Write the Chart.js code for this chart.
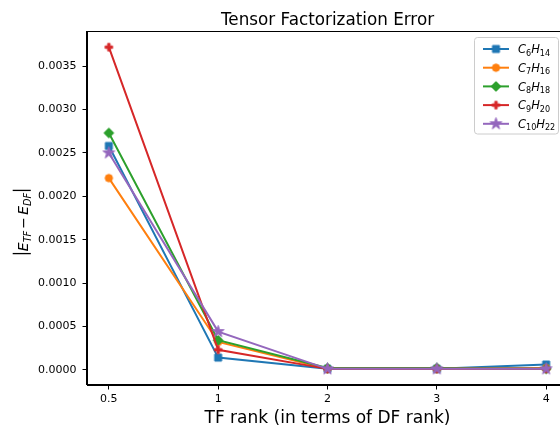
<!DOCTYPE html>
<html>
<head>
<meta charset="utf-8">
<script src="https://cdn.jsdelivr.net/npm/chart.js@4/dist/chart.umd.min.js"></script>
<style>
  html, body { margin: 0; padding: 0; background: #fff; }
  #wrap { width: 560px; height: 425px; overflow: hidden; position: relative; }
  canvas { display: block; }
</style>
</head>
<body>
<div id="wrap"><canvas id="errChart" width="575" height="425"></canvas></div>
<script>
// TF rank labels (x axis, evenly spaced)
const rankLabels = ['0.5', '1', '2', '3', '4'];
const yTicks = [0, 0.0005, 0.001, 0.0015, 0.002, 0.0025, 0.003, 0.0035];

// |E_TF - E_DF| per molecule
const c6h14 = [0.00258, 0.00014, 0.00001, 0.00001, 0.00006];
const c7h16 = [0.00221, 0.00032, 0.00001, 0.00001, 0.00002];
const c8h18 = [0.00273, 0.00034, 0.00002, 0.00002, 0.00001];
const c9h20 = [0.00372, 0.00023, 0.00001, 0.00001, 0.00001];
const c10h22 = [0.00250, 0.00044, 0.00001, 0.00001, 0.00001];

const FONT = '"DejaVu Sans", sans-serif';

// dibuja un marcador estilo matplotlib en un canvas pequeño
function makeMarker(shape, color) {
    const size = 19;
    const c = document.createElement('canvas');
    c.width = size;
    c.height = size;
    const g = c.getContext('2d');
    const m = size / 2;
    g.fillStyle = color;
    g.strokeStyle = color;
    g.lineWidth = 1;
    g.beginPath();
    if (shape === 'square') {
        g.rect(m - 3.5, m - 3.5, 7, 7);
    } else if (shape === 'circle') {
        g.arc(m, m, 3.7, 0, Math.PI * 2);
    } else if (shape === 'diamond') {
        const d = 4.9;
        g.moveTo(m, m - d); g.lineTo(m + d, m); g.lineTo(m, m + d); g.lineTo(m - d, m);
    } else if (shape === 'plus') {
        const a = 3.7, t = 1.2;
        const pts = [[-t,-a],[t,-a],[t,-t],[a,-t],[a,t],[t,t],[t,a],[-t,a],[-t,t],[-a,t],[-a,-t],[-t,-t]];
        pts.forEach((p, i) => i ? g.lineTo(m + p[0], m + p[1]) : g.moveTo(m + p[0], m + p[1]));
    } else if (shape === 'star') {
        const R = 6.2, r = R * 0.382;
        for (let i = 0; i < 10; i++) {
            const ang = -Math.PI / 2 + i * Math.PI / 5;
            const rad = i % 2 ? r : R;
            const px = m + rad * Math.cos(ang), py = m + rad * Math.sin(ang);
            i ? g.lineTo(px, py) : g.moveTo(px, py);
        }
    }
    g.closePath();
    g.fill();
    g.stroke();
    return c;
}

const series = [
    { name: [['C', 'i'], ['6', 's'], ['H', 'i'], ['14', 's']], data: c6h14, color: '#1f77b4', shape: 'square' },
    { name: [['C', 'i'], ['7', 's'], ['H', 'i'], ['16', 's']], data: c7h16, color: '#ff7f0e', shape: 'circle' },
    { name: [['C', 'i'], ['8', 's'], ['H', 'i'], ['18', 's']], data: c8h18, color: '#2ca02c', shape: 'diamond' },
    { name: [['C', 'i'], ['9', 's'], ['H', 'i'], ['20', 's']], data: c9h20, color: '#d62728', shape: 'plus' },
    { name: [['C', 'i'], ['10', 's'], ['H', 'i'], ['22', 's']], data: c10h22, color: '#9467bd', shape: 'star' }
];
series.forEach(s => { s.marker = makeMarker(s.shape, s.color); });

function fontFor(k, size, subSize) {
    if (k === 'i') return 'italic ' + size + 'px ' + FONT;
    if (k === 's') return subSize + 'px ' + FONT;
    if (k === 'si') return 'italic ' + subSize + 'px ' + FONT;
    return size + 'px ' + FONT;
}

// texto tipo mathtext: i = cursiva, s = subíndice, si = subíndice cursiva, o = operador, b = barra alta
function drawMath(ctx, parts, x, y, size, align, bar) {
    const subSize = size * 0.7;
    const widths = parts.map(([t, k]) => {
        if (k === 'b') return size * 0.34;
        ctx.font = fontFor(k, size, subSize);
        let w = ctx.measureText(t).width;
        if (k === 'o') w += size * 0.3;
        return w;
    });
    const total = widths.reduce((a, b) => a + b, 0);
    let cx = align === 'center' ? x - total / 2 : x;
    ctx.textAlign = 'left';
    ctx.textBaseline = 'alphabetic';
    parts.forEach(([t, k], i) => {
        if (k === 'b') {
            ctx.fillRect(cx + widths[i] / 2 - 0.65, y - bar[0], 1.3, bar[0] + bar[1]);
        } else {
            ctx.font = fontFor(k, size, subSize);
            const dy = (k === 's' || k === 'si') ? size * 0.2 : 0;
            const dx = k === 'o' ? size * 0.15 : 0;
            ctx.fillText(t, cx + dx, y + dy);
        }
        cx += widths[i];
    });
}

const decorations = {
    id: 'decorations',
    afterDraw(chart) {
        const ctx = chart.ctx;
        const area = chart.chartArea;
        ctx.save();
        // marco superior y derecho
        ctx.strokeStyle = '#000';
        ctx.lineWidth = 1;
        ctx.strokeRect(Math.round(area.left) - 0.5, Math.round(area.top) + 0.5,
            Math.round(area.right - area.left) + 1, Math.round(area.bottom - area.top) - 1);

        const midX = (area.left + area.right) / 2;
        ctx.fillStyle = '#000';
        ctx.textAlign = 'center';
        ctx.textBaseline = 'alphabetic';
        ctx.font = '16.8px ' + FONT;
        ctx.fillText('Tensor Factorization Error', midX, 24.5);
        ctx.font = '17px ' + FONT;
        ctx.fillText('TF rank (in terms of DF rank)', midX, 423);

        // etiqueta del eje y
        ctx.save();
        ctx.translate(28, 222);
        ctx.rotate(-Math.PI / 2);
        drawMath(ctx, [['|', 'b'], ['E', 'i'], ['TF', 'si'], ['\u2212', 'o'], ['E', 'i'], ['DF', 'si'], ['|', 'b']],
            0, 0, 14, 'center', [15.3, 2.8]);
        ctx.restore();

        // leyenda
        const lx = 474.5, ly = 37.5, lw = 84, lh = 96.5;
        ctx.beginPath();
        ctx.roundRect(lx, ly, lw, lh, 3);
        ctx.fillStyle = 'rgba(255,255,255,0.8)';
        ctx.fill();
        ctx.strokeStyle = '#cccccc';
        ctx.lineWidth = 1;
        ctx.stroke();
        series.forEach((s, i) => {
            const rowY = 49 + i * 18.7;
            ctx.beginPath();
            ctx.moveTo(483, rowY);
            ctx.lineTo(509, rowY);
            ctx.strokeStyle = s.color;
            ctx.lineWidth = 2;
            ctx.stroke();
            ctx.drawImage(s.marker, 496 - s.marker.width / 2, rowY - s.marker.height / 2);
            ctx.fillStyle = '#000';
            drawMath(ctx, s.name, 518, rowY + 4.2, 11.5, 'left');
        });
        ctx.restore();
    }
};

const ctx = document.getElementById('errChart').getContext('2d');
new Chart(ctx, {
    type: 'line',
    data: {
        datasets: series.map((s, i) => ({
            label: s.name.map(p => p[0]).join(''),
            data: s.data.map((v, j) => ({ x: j, y: v })),
            borderColor: s.color,
            backgroundColor: s.color,
            borderWidth: 2,
            pointStyle: s.marker,
            pointRadius: 5,
            tension: 0,
            order: series.length - i
        }))
    },
    options: {
        responsive: false,
        animation: false,
        events: [],
        layout: { padding: { top: 31, right: 7, left: 0, bottom: 0 } },
        plugins: {
            legend: { display: false },
            tooltip: { enabled: false },
            title: { display: false }
        },
        scales: {
            x: {
                type: 'linear',
                min: -0.2,
                max: 4.2,
                afterBuildTicks: scale => { scale.ticks = rankLabels.map((_, i) => ({ value: i })); },
                afterFit: scale => { scale.height = 40; },
                grid: { drawOnChartArea: false, drawTicks: true, tickLength: 4.5, tickColor: '#000', tickWidth: 1 },
                border: { color: '#000', width: 1 },
                ticks: {
                    callback: v => rankLabels[v],
                    color: '#000',
                    font: { family: FONT, size: 11 },
                    padding: 3,
                    maxRotation: 0
                }
            },
            y: {
                type: 'linear',
                min: -0.000176,
                max: 0.003906,
                afterBuildTicks: scale => { scale.ticks = yTicks.map(v => ({ value: v })); },
                afterFit: scale => { scale.width = 87; },
                grid: { drawOnChartArea: false, drawTicks: true, tickLength: 4.5, tickColor: '#000', tickWidth: 1 },
                border: { color: '#000', width: 1 },
                ticks: {
                    callback: v => v.toFixed(4),
                    color: '#000',
                    font: { family: FONT, size: 11 },
                    padding: 6
                }
            }
        }
    },
    plugins: [decorations]
});
</script>
</body>
</html>
